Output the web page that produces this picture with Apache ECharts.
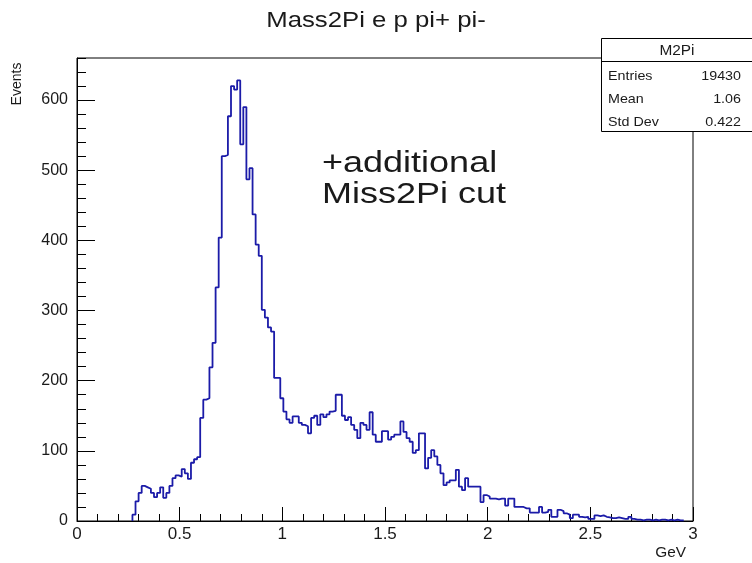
<!DOCTYPE html>
<html><head><meta charset="utf-8">
<script src="https://cdn.jsdelivr.net/npm/echarts/dist/echarts.min.js"></script>
<style>html,body{margin:0;padding:0;background:#fff}#c{width:752px;height:563px}</style>
</head><body><div id="c"></div>
<script>
// Histogram M2Pi: 200 bins on [0,3], first non-empty bin starts at 0.27
const binStart = 0.27;
const binWidth = 0.015;
const counts = [
  9, 28, 40, 50, 48, 46, 40, 34, 40, 48,
  33, 40, 50, 61, 65, 63, 74, 68, 60, 83,
  88, 91, 147, 173, 175, 219, 254, 333, 404, 520,
  522, 577, 620, 615, 628, 537, 590, 487, 503, 437,
  394, 378, 301, 290, 276, 270, 204, 204, 175, 156,
  145, 140, 149, 149, 140, 137, 135, 125, 147, 150,
  137, 152, 148, 152, 156, 157, 180, 180, 150, 144,
  148, 137, 130, 118, 140, 137, 130, 155, 123, 113,
  113, 128, 128, 116, 120, 123, 123, 142, 127, 118,
  113, 97, 101, 125, 125, 75, 90, 101, 92, 80,
  68, 51, 55, 58, 58, 73, 49, 44, 61, 49,
  49, 49, 49, 27, 37, 35, 32, 32, 31, 32,
  32, 22, 32, 32, 20, 20, 20, 18, 18, 12,
  12, 12, 20, 12, 13, 16, 6, 6, 16, 14,
  11, 9, 4, 9, 9, 6, 5, 6, 3, 3,
  8, 7, 8, 6, 5, 4, 4, 5, 4, 3,
  3, 6, 3, 2, 2, 1, 2, 2, 1, 2,
  1, 2, 2, 1, 2, 1, 2, 1, 1
];
const xTickValues = [0, 0.5, 1, 1.5, 2, 2.5, 3];
const yTickValues = [0, 100, 200, 300, 400, 500, 600];
const titleText = 'Mass2Pi e p pi+ pi-';
const statsName = 'M2Pi';
const statsLabels = ['Entries', 'Mean', 'Std Dev'];
const statsValues = ['19430', '1.06', '0.422'];
const noteLines = ['+additional', 'Miss2Pi cut'];

const data = [[binStart, 0]];
counts.forEach((c, k) => data.push([+(binStart + k * binWidth).toFixed(4), c]));
data.push([+(binStart + counts.length * binWidth).toFixed(4), 0]);

const FONT = 'Liberation Sans, Arial, Helvetica, sans-serif';
const chart = echarts.init(document.getElementById('c'), null, {renderer: 'canvas'});

function txt(text, x, y, size, align, vAlign, sx, extra) {
  return Object.assign({
    type: 'text', x: x, y: y, scaleX: sx || 1, z: 100,
    style: {text: text, fontSize: size, fontFamily: FONT, fill: '#1a1a1a',
      align: align, textAlign: align, verticalAlign: vAlign, textVerticalAlign: vAlign}
  }, extra || {});
}

const graphics = [
  txt(titleText, 376, 21, 22, 'center', 'middle', 1.17),
  txt(noteLines[0], 322, 164, 30, 'left', 'middle', 1.2),
  txt(noteLines[1], 322, 195, 30, 'left', 'middle', 1.2),
  txt('Events', 17, 84, 14, 'center', 'middle', 1, {rotation: Math.PI / 2}),
  txt('GeV', 686, 553, 14, 'right', 'middle', 1.1),
  {type: 'rect', z: 90, shape: {x: 601.5, y: 38.5, width: 170, height: 93},
    style: {fill: '#fff', stroke: '#000', lineWidth: 1}},
  {type: 'line', z: 95, shape: {x1: 601.5, y1: 61.5, x2: 752, y2: 61.5},
    style: {stroke: '#000', lineWidth: 1}},
  txt(statsName, 677, 51, 14, 'center', 'middle', 1.1)
];
statsLabels.forEach((l, k) => {
  graphics.push(txt(l, 608, 76 + 23 * k, 13, 'left', 'middle', 1.1));
  graphics.push(txt(statsValues[k], 741, 76 + 23 * k, 13, 'right', 'middle', 1.1));
});

chart.setOption({
  animation: false,
  backgroundColor: '#fff',
  grid: {left: 77, right: 59, top: 58, bottom: 42, show: true, borderColor: '#000', borderWidth: 1, backgroundColor: 'transparent'},
  xAxis: {
    type: 'value', min: xTickValues[0], max: xTickValues[xTickValues.length - 1], interval: 0.5,
    axisLine: {onZero: false, lineStyle: {color: '#000', width: 1}},
    axisTick: {inside: true, length: 14, lineStyle: {color: '#000'}},
    minorTick: {show: true, splitNumber: 5, length: 7, lineStyle: {color: '#000'}},
    splitLine: {show: false},
    axisLabel: {color: '#1a1a1a', fontSize: 17, fontFamily: FONT, margin: 5,
      formatter: v => xTickValues.includes(v) ? String(v) : ''}
  },
  yAxis: [{
    type: 'value', min: 0, max: 660, interval: 100,
    axisLine: {show: true, onZero: false, lineStyle: {color: '#000', width: 1}},
    axisTick: {inside: true, length: 18, lineStyle: {color: '#000'}},
    splitLine: {show: false},
    axisLabel: {color: '#1a1a1a', fontSize: 16, fontFamily: FONT, margin: 9, showMaxLabel: false,
      formatter: v => yTickValues.includes(v) ? String(v) : ''}
  }, {
    type: 'value', min: 0, max: 660, interval: 20, position: 'left',
    axisLine: {show: false},
    axisTick: {show: true, inside: true, length: 9, lineStyle: {color: '#000'}},
    axisLabel: {show: false},
    splitLine: {show: false}
  }],
  series: [{
    type: 'line', step: 'end', showSymbol: false, symbol: 'none',
    data: data, xAxisIndex: 0, yAxisIndex: 0,
    lineStyle: {color: '#1b1ba8', width: 1.8}, clip: true
  }],
  graphic: graphics
});
</script></body></html>
